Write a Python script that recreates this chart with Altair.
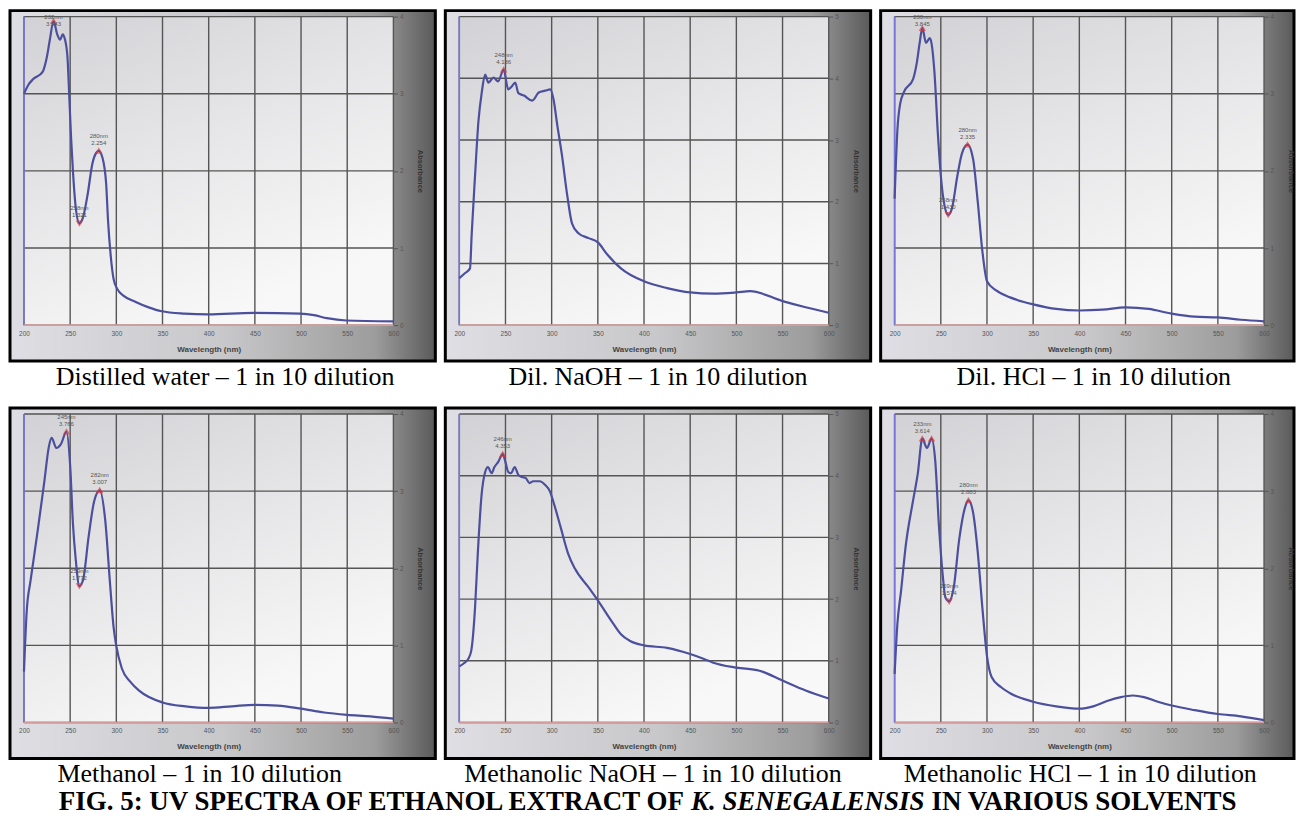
import altair as alt
import pandas as pd

W = 370
H = 309

XT = [200, 250, 300, 350, 400, 450, 500, 550, 600]

# ---- Distilled water ----
wl_water = [200, 205, 210, 220, 225, 228, 232, 236, 239, 242, 244, 247, 249, 251, 253, 256, 260, 264, 269, 274,
            278, 281, 285, 289, 291, 294, 297, 301, 308, 321, 335, 349, 374, 399, 449, 499, 514, 528, 549, 600]
ab_water = [3.00, 3.12, 3.19, 3.28, 3.49, 3.70, 3.94, 3.77, 3.70, 3.77, 3.72, 3.49, 2.98, 2.43, 2.00, 1.53, 1.32, 1.40,
            1.70, 2.09, 2.23, 2.26, 2.17, 1.83, 1.36, 0.89, 0.60, 0.47, 0.38, 0.30, 0.23, 0.18, 0.15, 0.14, 0.16, 0.15,
            0.13, 0.09, 0.06, 0.05]
pk_water = [(232, 3.94, "triangle-up", "232nm", "3.943"),
            (260, 1.32, "triangle-down", "258nm", "1.321"),
            (281, 2.26, "triangle-up", "280nm", "2.254")]

# ---- Dil. NaOH ----
wl_naoh = [200, 206, 211.6, 213.4, 217, 220.7, 224.3, 228, 231.5, 237, 242, 248, 253, 257, 260.5, 264, 270, 279, 286,
           293, 298.5, 302, 306, 311, 317, 322, 329, 340, 350, 360, 375, 400, 425, 450, 475, 500, 515, 550, 575, 600]
ab_naoh = [0.76, 0.84, 0.92, 1.47, 2.41, 3.30, 3.77, 4.06, 3.93, 4.01, 3.95, 4.14, 3.82, 3.87, 3.93, 3.76, 3.72, 3.64,
           3.77, 3.80, 3.82, 3.66, 3.25, 2.77, 2.09, 1.65, 1.49, 1.41, 1.34, 1.15, 0.92, 0.71, 0.60, 0.53, 0.51, 0.53,
           0.55, 0.39, 0.29, 0.20]
pk_naoh = [(248, 4.14, "triangle-up", "248nm", "4.136")]

# ---- Dil. HCl ----
wl_hcl = [200, 203, 206, 210, 220, 224, 227, 230, 234, 238, 240, 243, 247, 250, 254, 258, 262, 268, 273, 279, 285,
          290, 295, 300, 310, 325, 340, 350, 375, 400, 425, 450, 475, 500, 525, 550, 575, 600]
ab_hcl = [1.64, 2.53, 2.87, 3.02, 3.19, 3.40, 3.65, 3.85, 3.66, 3.72, 3.65, 3.30, 2.45, 1.94, 1.55, 1.43, 1.51, 1.94,
          2.23, 2.34, 2.15, 1.60, 0.96, 0.57, 0.45, 0.36, 0.30, 0.27, 0.21, 0.19, 0.20, 0.23, 0.21, 0.15, 0.11, 0.10,
          0.07, 0.05]
pk_hcl = [(230, 3.85, "triangle-up", "230nm", "3.845"),
          (258, 1.43, "triangle-down", "258nm", "1.430"),
          (279, 2.34, "triangle-up", "280nm", "2.335")]

# ---- Methanol ----
wl_meoh = [200, 203, 207, 210, 215, 222, 227, 230, 235, 240, 246, 250, 253, 256, 260, 264, 270, 276, 282, 288, 293,
           297, 300, 306, 315, 325, 350, 375, 400, 425, 450, 475, 500, 525, 550, 575, 600]
ab_meoh = [0.66, 1.45, 1.83, 2.08, 2.50, 3.12, 3.58, 3.69, 3.56, 3.61, 3.77, 3.33, 2.58, 2.12, 1.77, 1.85, 2.41, 2.87,
           3.01, 2.62, 1.83, 1.24, 0.99, 0.70, 0.53, 0.41, 0.26, 0.21, 0.19, 0.21, 0.23, 0.22, 0.18, 0.13, 0.10, 0.08,
           0.05]
pk_meoh = [(246, 3.77, "triangle-up", "245nm", "3.766"),
           (260, 1.77, "triangle-down", "259nm", "1.772"),
           (282, 3.01, "triangle-up", "282nm", "3.007")]

# ---- Methanolic NaOH ----
wl_mnaoh = [200, 205, 210, 213, 217, 220, 224, 228, 231, 235, 238, 242, 247, 250, 253, 256, 260, 264, 268, 272, 276,
            280, 287, 293, 298, 302, 310, 318, 325, 340, 350, 365, 375, 385, 400, 425, 450, 465, 475, 500, 525, 550,
            575, 600]
ab_mnaoh = [0.91, 0.96, 1.04, 1.17, 1.85, 2.73, 3.67, 4.06, 4.14, 4.04, 4.14, 4.22, 4.35, 4.22, 4.06, 4.04, 4.14,
            4.01, 3.98, 3.96, 3.88, 3.91, 3.91, 3.85, 3.75, 3.57, 3.15, 2.73, 2.50, 2.19, 1.98, 1.64, 1.43, 1.32, 1.25,
            1.21, 1.11, 1.03, 0.97, 0.89, 0.84, 0.68, 0.52, 0.39]
pk_mnaoh = [(247, 4.35, "triangle-up", "246nm", "4.353")]

# ---- Methanolic HCl ----
wl_mhcl = [200, 203, 207, 212, 220, 225, 230, 235, 240, 244, 248, 252, 255, 259, 264, 270, 276, 280, 285, 290, 295,
           300, 305, 315, 325, 350, 375, 400, 415, 430, 445, 458, 470, 485, 500, 525, 550, 575, 600]
ab_mhcl = [0.63, 1.28, 1.71, 2.29, 2.88, 3.22, 3.68, 3.56, 3.68, 3.39, 2.55, 1.92, 1.62, 1.57, 1.75, 2.38, 2.78, 2.88,
           2.72, 2.21, 1.49, 0.86, 0.59, 0.46, 0.38, 0.27, 0.21, 0.18, 0.21, 0.28, 0.33, 0.35, 0.33, 0.27, 0.22, 0.16,
           0.11, 0.08, 0.03]
pk_mhcl = [(230, 3.68, "triangle-up", "233nm", "3.614"),
           (240, 3.68, "triangle-up", "", ""),
           (259, 1.57, "triangle-down", "259nm", "1.574"),
           (280, 2.88, "triangle-up", "280nm", "2.883")]

captions = ["Distilled water \u2013 1 in 10 dilution", "Dil. NaOH \u2013 1 in 10 dilution",
            "Dil. HCl \u2013 1 in 10 dilution", "Methanol \u2013 1 in 10 dilution",
            "Methanolic NaOH \u2013 1 in 10 dilution", "Methanolic HCl \u2013 1 in 10 dilution"]

title_parts = ["FIG. 5: UV SPECTRA OF ETHANOL EXTRACT OF", "K. SENEGALENSIS", "IN VARIOUS SOLVENTS"]

FRAME_GRAD = alt.LinearGradient(
    gradient="linear",
    stops=[alt.GradientStop(color="#dedee4", offset=0),
           alt.GradientStop(color="#c8c8ca", offset=0.5),
           alt.GradientStop(color="#9c9c9c", offset=0.86),
           alt.GradientStop(color="#5a5a5a", offset=1)],
    x1=0, y1=0, x2=1, y2=0)

PLOT_GRAD = alt.LinearGradient(
    gradient="linear",
    stops=[alt.GradientStop(color="#d2d2d6", offset=0),
           alt.GradientStop(color="#e6e6e8", offset=0.5),
           alt.GradientStop(color="#f8f8f8", offset=1)],
    x1=0, y1=0, x2=0.5, y2=1)

SANS = "Liberation Sans"
SERIF = "Liberation Serif"

AX_X = alt.Axis(values=XT, title="Wavelength (nm)", orient="bottom", grid=False, domain=False,
                ticks=False, labelFontSize=6.5, labelColor="#555555", labelFont=SANS,
                labelPadding=5, labelFlush=False, labelOverlap=False,
                titleFont=SANS, titleFontSize=8, titleFontWeight="bold", titleColor="#444444",
                titlePadding=9, zindex=2)


def ax_y(yt):
    return alt.Axis(values=yt, title="Absorbance", orient="right", grid=False, domain=False,
                    ticks=True, tickSize=4, tickColor="#555555", labelFontSize=6.5,
                    labelColor="#555555", labelFont=SANS, labelPadding=2, labelFlush=False,
                    titleFont=SANS, titleFontSize=7.5, titleFontWeight="bold", titleColor="#333333",
                    titlePadding=13, zindex=2)


def panel(wl, ab, ymax, peaks, caption, right_ext=42, cap_x=None, extra=None):
    df = pd.DataFrame({"wl": wl, "ab": ab})
    yt = list(range(ymax + 1))
    xs = alt.Scale(domain=[200, 600], nice=False, zero=False)
    ys = alt.Scale(domain=[0, ymax], nice=False, zero=False)
    AY = ax_y(yt)
    X = lambda: alt.X("wl:Q", scale=xs, axis=AX_X)
    Y = lambda: alt.Y("ab:Q", scale=ys, axis=AY)
    one = alt.Data(values=[{"a": 1}])

    frame = alt.Chart(one).mark_rect(fill=FRAME_GRAD, stroke="#000000", strokeWidth=3).encode(
        x=alt.value(-14), x2=alt.value(W + right_ext), y=alt.value(-6), y2=alt.value(H + 36))
    bg = alt.Chart(one).mark_rect(fill=PLOT_GRAD).encode(
        x=alt.value(0), x2=alt.value(W), y=alt.value(0), y2=alt.value(H))
    gx = alt.Chart(pd.DataFrame({"wl": XT})).mark_rule(color="#555555", strokeWidth=1.4).encode(x=X())
    gy = alt.Chart(pd.DataFrame({"ab": yt})).mark_rule(color="#555555", strokeWidth=1.4).encode(y=Y())
    r200 = alt.Chart(pd.DataFrame({"wl": [200]})).mark_rule(color="#7676d8", strokeWidth=1.6).encode(x=X())
    r0 = alt.Chart(pd.DataFrame({"ab": [0]})).mark_rule(color="#d49c9c", strokeWidth=1.6).encode(y=Y())

    line = alt.Chart(df).mark_line(color="#4b4f9c", strokeWidth=2.2, interpolate="monotone").encode(x=X(), y=Y())

    pk = pd.DataFrame(peaks, columns=["wl", "ab", "shape", "nm", "val"])
    mk = alt.Chart(pk).mark_point(filled=False, color="#e03a3a", size=26, strokeWidth=1.3).encode(
        x=X(), y=Y(), shape=alt.Shape("shape:N", scale=None))
    lab = alt.Chart(pk).transform_calculate(ly=f"min(datum.ab, {ymax} - 0.2)")
    t1 = lab.mark_text(fontSize=6, color="#555555", font=SANS, dy=-15).encode(
        x=X(), y=alt.Y("ly:Q", scale=ys, axis=AY), text="nm:N")
    t2 = lab.mark_text(fontSize=6, color="#555555", font=SANS, dy=-8).encode(
        x=X(), y=alt.Y("ly:Q", scale=ys, axis=AY), text="val:N")

    cx = cap_x if cap_x is not None else (W + right_ext - 14) / 2
    cap = alt.Chart(one).mark_text(text=caption, font=SERIF, fontSize=26, align="center",
                                   baseline="alphabetic", color="#000000").encode(
        x=alt.value(cx), y=alt.value(H + 60))

    layers = [frame, bg, gx, gy, r200, r0, line, mk, t1, t2, cap]
    if extra:
        layers += extra
    return alt.layer(*layers).properties(width=W, height=H)


one = alt.Data(values=[{"a": 1}])
TY = H + 87.5
title_layers = [
    alt.Chart(one).mark_text(text=title_parts[0], font=SERIF, fontSize=27, fontWeight="bold", align="right",
                             baseline="alphabetic", color="#000000").encode(x=alt.value(225), y=alt.value(TY)),
    alt.Chart(one).mark_text(text=title_parts[1], font=SERIF, fontSize=27, fontWeight="bold", fontStyle="italic",
                             align="left", baseline="alphabetic", color="#000000").encode(x=alt.value(232),
                                                                                          y=alt.value(TY)),
    alt.Chart(one).mark_text(text=title_parts[2], font=SERIF, fontSize=27, fontWeight="bold", align="left",
                             baseline="alphabetic", color="#000000").encode(x=alt.value(473), y=alt.value(TY)),
]

p1 = panel(wl_water, ab_water, 4, pk_water, captions[0], cap_x=201.5)
p2 = panel(wl_naoh, ab_naoh, 5, pk_naoh, captions[1])
p3 = panel(wl_hcl, ab_hcl, 4, pk_hcl, captions[2], right_ext=30, cap_x=199.5)
p4 = panel(wl_meoh, ab_meoh, 4, pk_meoh, captions[3], cap_x=176)
p5 = panel(wl_mnaoh, ab_mnaoh, 5, pk_mnaoh, captions[4], cap_x=194, extra=title_layers)
p6 = panel(wl_mhcl, ab_mhcl, 4, pk_mhcl, captions[5], right_ext=30, cap_x=186)

chart = alt.concat(p1, p2, p3, p4, p5, p6, columns=3, spacing={"row": 89, "column": 66},
                   bounds="flush").properties(padding=0).configure_view(stroke=None).configure(
    background="#ffffff")

chart.save("out.html", embed_options={"renderer": "svg", "actions": False})
